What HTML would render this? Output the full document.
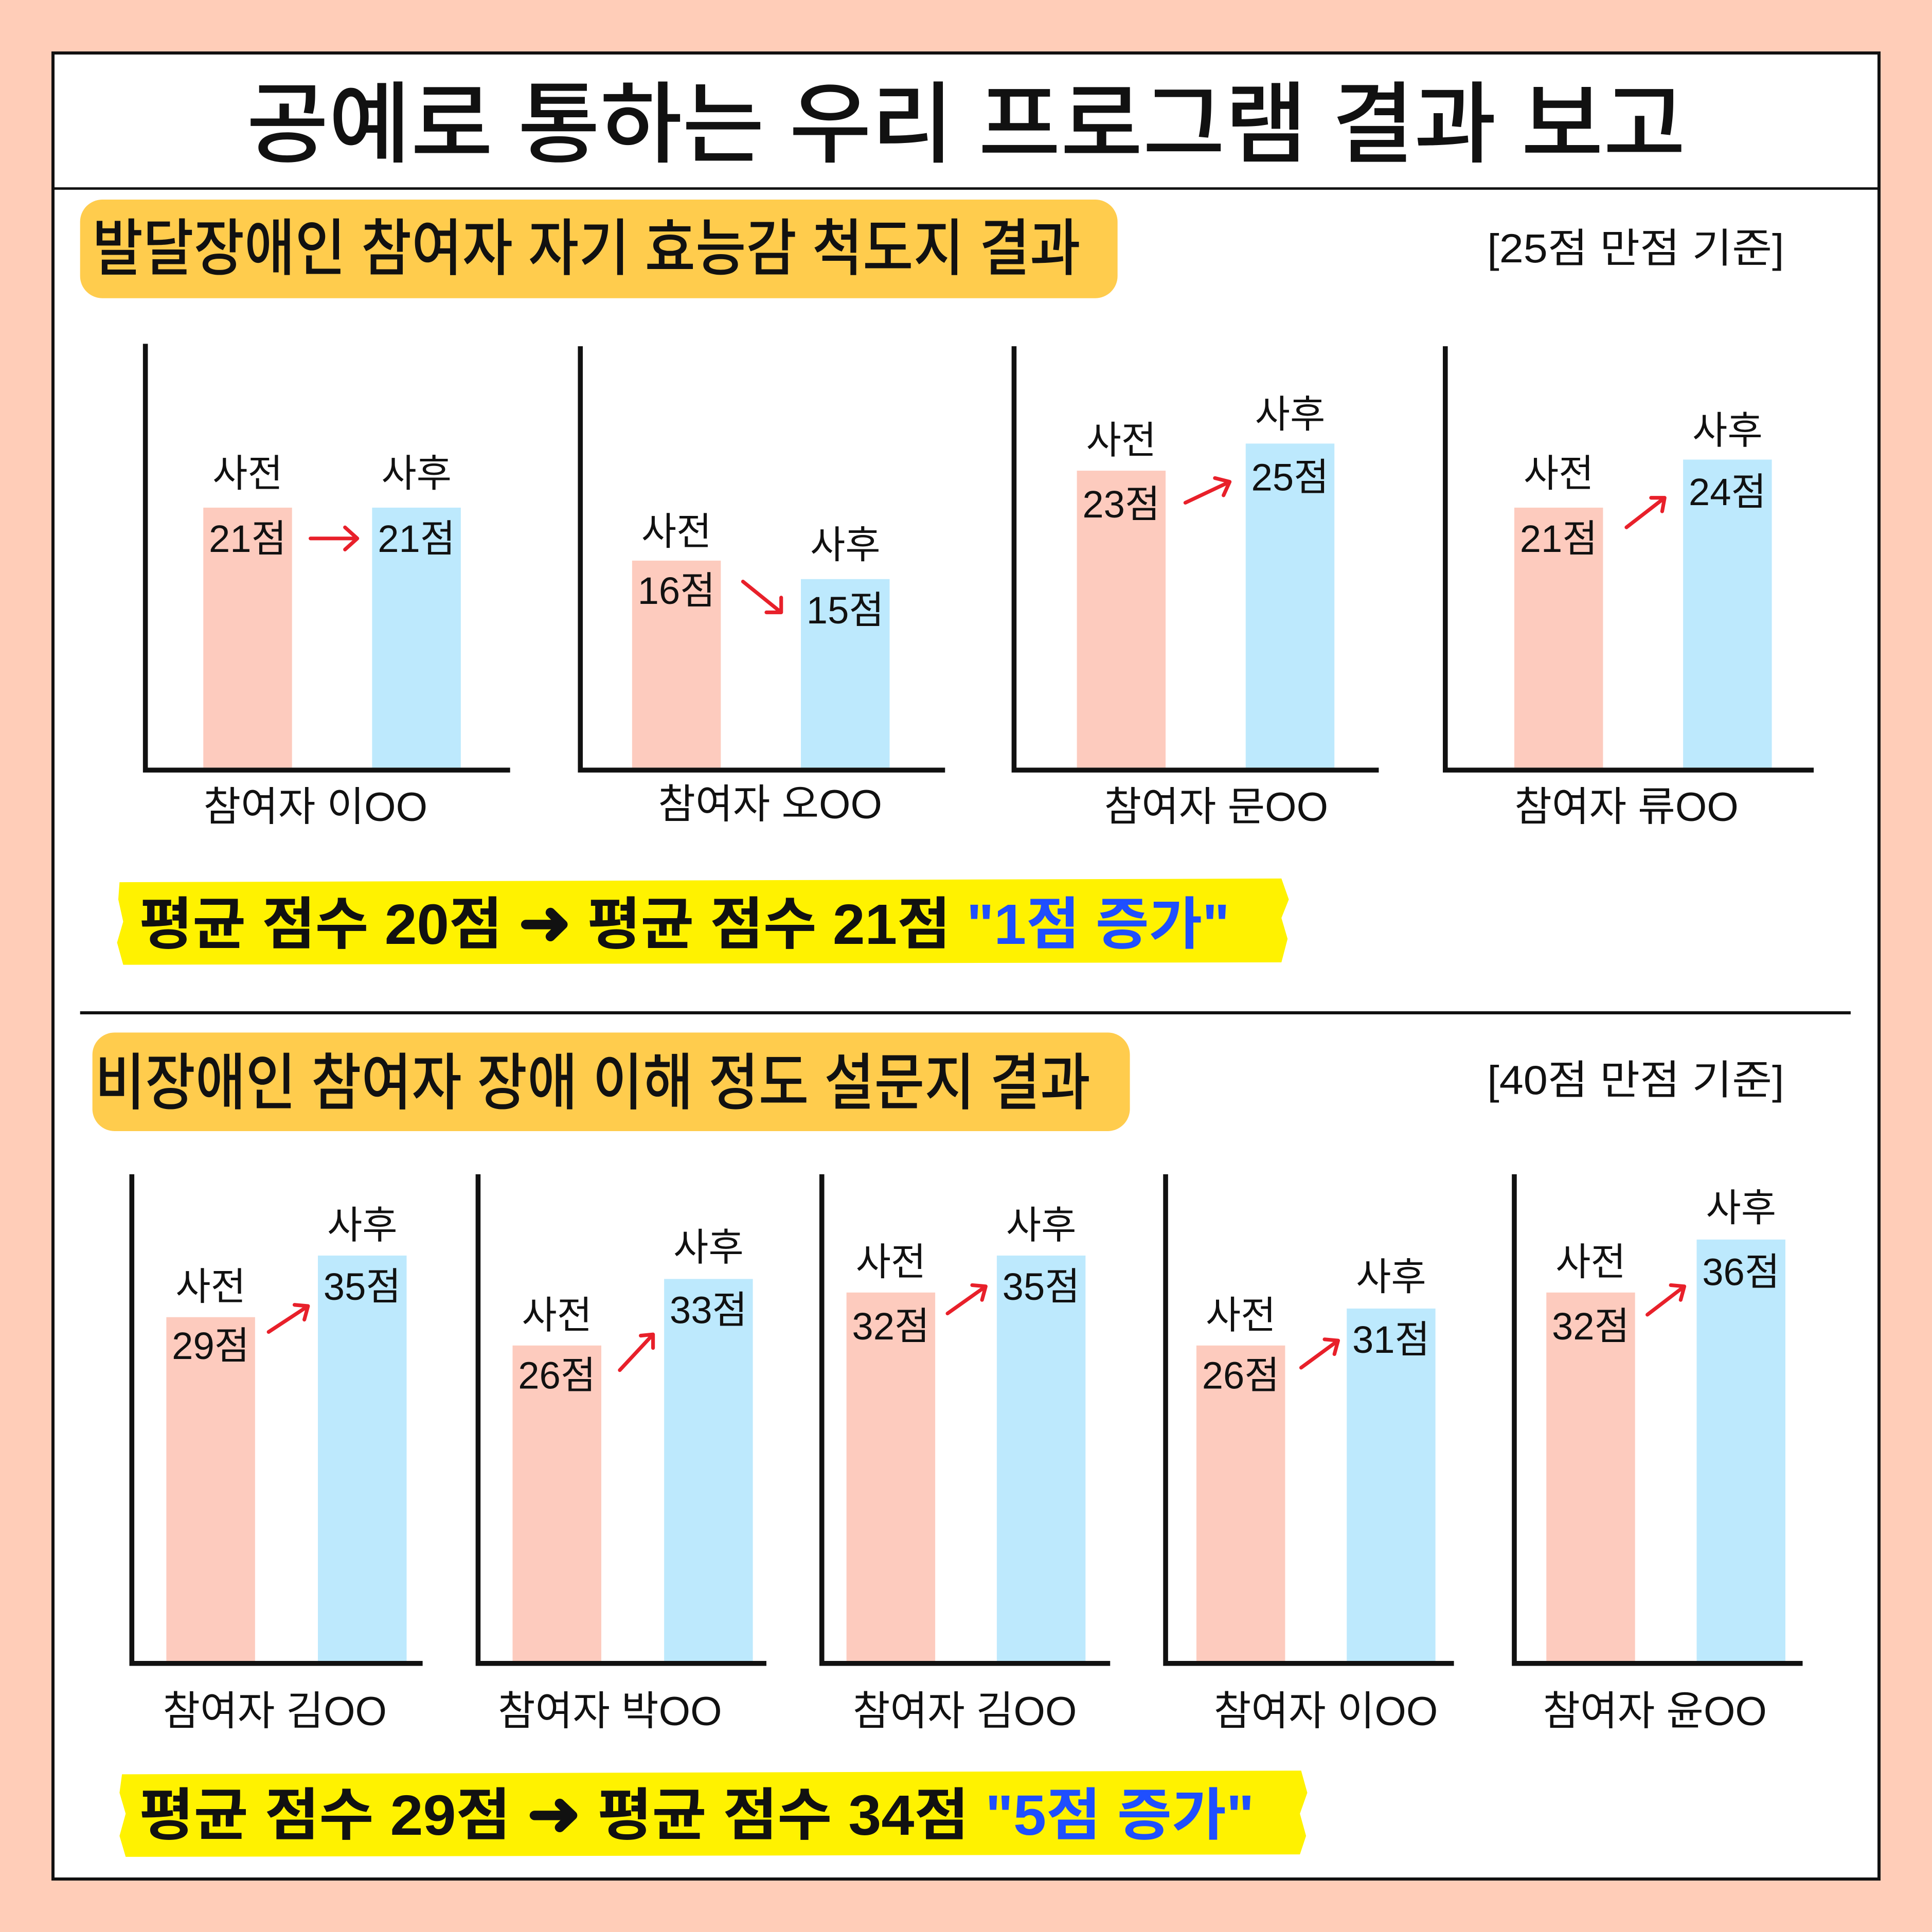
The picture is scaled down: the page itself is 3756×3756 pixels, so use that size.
<!DOCTYPE html>
<html><head><meta charset="utf-8"><style>
html,body{margin:0;padding:0;background:#FFCDB8;}
svg{display:block;}
text{font-family:"Liberation Sans","Noto Sans CJK KR",sans-serif;fill:#111;}
.t{font-size:31px;text-anchor:middle;}
.lb{font-size:33px;text-anchor:middle;}
.hl{font-size:46px;font-weight:bold;}
.pre{fill:#FDCBBE}.post{fill:#BDE9FD}
.ax{stroke:#111;stroke-width:4;fill:none}
.ar{stroke:#E8202A;stroke-width:3;fill:none;stroke-linecap:round;stroke-linejoin:round}
</style></head><body>
<svg width="3756" height="3756" viewBox="0 0 1568 1568" xmlns="http://www.w3.org/2000/svg">
<rect width="1568" height="1568" fill="#FFCDB8"/>
<rect x="43" y="43" width="1482" height="1482" fill="#fff" stroke="#111" stroke-width="2.5"/>
<line x1="43" y1="153" x2="1525" y2="153" stroke="#111" stroke-width="2"/>
<text x="200" y="126" textLength="1168" lengthAdjust="spacingAndGlyphs" style="font-size:72px;font-weight:500">공예로 통하는 우리 프로그램 결과 보고</text>

<rect x="65" y="162" width="842" height="80" rx="18" fill="#FFCC4D"/>
<text x="75" y="219" textLength="802" lengthAdjust="spacingAndGlyphs" style="font-size:50px;font-weight:500">발달장애인 참여자 자기 효능감 척도지 결과</text>
<text x="1207" y="213" textLength="241" lengthAdjust="spacingAndGlyphs" style="font-size:33px">[25점 만점 기준]</text>

<g>
<rect class="pre" x="165" y="412" width="72" height="211"/><rect class="post" x="302" y="412" width="72" height="211"/>
<path class="ax" d="M118 279 V625 H414"/>
<text class="t" x="201" y="395">사전</text><text class="t" x="201" y="448">21점</text>
<text class="t" x="338" y="395">사후</text><text class="t" x="338" y="448">21점</text>
<path class="ar" d="M252 437 H290 M280 428 L290 437 L280 446"/>
<text class="lb" x="256" y="666">참여자 이OO</text>
</g>
<g>
<rect class="pre" x="513" y="455" width="72" height="168"/><rect class="post" x="650" y="470" width="72" height="153"/>
<path class="ax" d="M471 281 V625 H767"/>
<text class="t" x="549" y="442">사전</text><text class="t" x="549" y="490">16점</text>
<text class="t" x="686" y="453">사후</text><text class="t" x="686" y="506">15점</text>
<path class="ar" d="M603 472 L634 497 M634 485 L634 497 L622 497"/>
<text class="lb" x="625" y="664">참여자 오OO</text>
</g>
<g>
<rect class="pre" x="874" y="382" width="72" height="241"/><rect class="post" x="1011" y="360" width="72" height="263"/>
<path class="ax" d="M823 281 V625 H1119"/>
<text class="t" x="910" y="368">사전</text><text class="t" x="910" y="420">23점</text>
<text class="t" x="1047" y="347">사후</text><text class="t" x="1047" y="398">25점</text>
<path class="ar" d="M962 408 L998 391 M986 388 L998 391 L993 402"/>
<text class="lb" x="987" y="666">참여자 문OO</text>
</g>
<g>
<rect class="pre" x="1229" y="412" width="72" height="211"/><rect class="post" x="1366" y="373" width="72" height="250"/>
<path class="ax" d="M1173 281 V625 H1472"/>
<text class="t" x="1265" y="395">사전</text><text class="t" x="1265" y="448">21점</text>
<text class="t" x="1402" y="360">사후</text><text class="t" x="1402" y="410">24점</text>
<path class="ar" d="M1320 428 L1351 404 M1340 404 L1351 404 L1349 415"/>
<text class="lb" x="1320" y="666">참여자 류OO</text>
</g>

<path d="M97 716 L1040 713 L1046 730 L1040 745 L1045 762 L1040 781 L100 783 L95 765 L100 748 L96 730 Z" fill="#FFF200"/>
<text class="hl" x="113" y="766" textLength="885" lengthAdjust="spacingAndGlyphs">평균 점수 20점 <tspan style="font-size:50px">➜</tspan> 평균 점수 21점 <tspan style="fill:#1F4FFF">"1점 증가"</tspan></text>

<line x1="65" y1="822" x2="1502" y2="822" stroke="#111" stroke-width="2.5"/>

<rect x="75" y="838" width="842" height="80" rx="18" fill="#FFCC4D"/>
<text x="77" y="896" textLength="808" lengthAdjust="spacingAndGlyphs" style="font-size:50px;font-weight:500">비장애인 참여자 장애 이해 정도 설문지 결과</text>
<text x="1207" y="888" textLength="241" lengthAdjust="spacingAndGlyphs" style="font-size:33px">[40점 만점 기준]</text>

<g>
<rect class="pre" x="135" y="1069" width="72" height="279"/><rect class="post" x="258" y="1019" width="72" height="329"/>
<path class="ax" d="M107 953 V1350 H343"/>
<text class="t" x="171" y="1055">사전</text><text class="t" x="171" y="1103">29점</text>
<text class="t" x="294" y="1005">사후</text><text class="t" x="294" y="1055">35점</text>
<path class="ar" d="M218 1081 L250 1060 M239 1059 L250 1060 L247 1071"/>
<text class="lb" x="223" y="1400">참여자 김OO</text>
</g>
<g>
<rect class="pre" x="416" y="1092" width="72" height="256"/><rect class="post" x="539" y="1038" width="72" height="310"/>
<path class="ax" d="M388 953 V1350 H622"/>
<text class="t" x="452" y="1078">사전</text><text class="t" x="452" y="1127">26점</text>
<text class="t" x="575" y="1023">사후</text><text class="t" x="575" y="1074">33점</text>
<path class="ar" d="M503 1112 L530 1083 M520 1084 L530 1083 L530 1094"/>
<text class="lb" x="495" y="1400">참여자 박OO</text>
</g>
<g>
<rect class="pre" x="687" y="1049" width="72" height="299"/><rect class="post" x="809" y="1019" width="72" height="329"/>
<path class="ax" d="M667 953 V1350 H901"/>
<text class="t" x="723" y="1035">사전</text><text class="t" x="723" y="1087">32점</text>
<text class="t" x="845" y="1005">사후</text><text class="t" x="845" y="1055">35점</text>
<path class="ar" d="M769 1066 L800 1044 M789 1043 L800 1044 L797 1055"/>
<text class="lb" x="783" y="1400">참여자 김OO</text>
</g>
<g>
<rect class="pre" x="971" y="1092" width="72" height="256"/><rect class="post" x="1093" y="1062" width="72" height="286"/>
<path class="ax" d="M946 953 V1350 H1180"/>
<text class="t" x="1007" y="1078">사전</text><text class="t" x="1007" y="1127">26점</text>
<text class="t" x="1129" y="1047">사후</text><text class="t" x="1129" y="1098">31점</text>
<path class="ar" d="M1056 1110 L1086 1088 M1075 1087 L1086 1088 L1083 1099"/>
<text class="lb" x="1076" y="1400">참여자 이OO</text>
</g>
<g>
<rect class="pre" x="1255" y="1049" width="72" height="299"/><rect class="post" x="1377" y="1006" width="72" height="342"/>
<path class="ax" d="M1229 953 V1350 H1463"/>
<text class="t" x="1291" y="1035">사전</text><text class="t" x="1291" y="1087">32점</text>
<text class="t" x="1413" y="991">사후</text><text class="t" x="1413" y="1043">36점</text>
<path class="ar" d="M1337 1067 L1367 1044 M1356 1043 L1367 1044 L1364 1055"/>
<text class="lb" x="1343" y="1400">참여자 윤OO</text>
</g>

<path d="M99 1440 L1056 1437 L1061 1455 L1055 1472 L1060 1490 L1055 1505 L102 1507 L97 1490 L102 1472 L97 1455 Z" fill="#FFF200"/>
<text class="hl" x="113" y="1489" textLength="905" lengthAdjust="spacingAndGlyphs">평균 점수 29점 <tspan style="font-size:50px">➜</tspan> 평균 점수 34점 <tspan style="fill:#1F4FFF">"5점 증가"</tspan></text>
</svg>
</body></html>
